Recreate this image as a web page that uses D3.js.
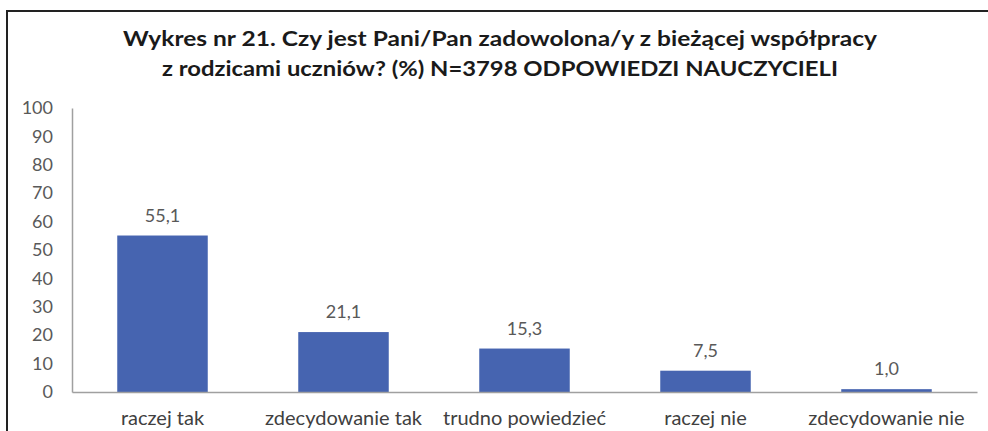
<!DOCTYPE html>
<html><head><meta charset="utf-8">
<script src="https://cdn.jsdelivr.net/npm/d3@7"></script>
<style>body{margin:0;background:#fff}svg{display:block}</style>
</head><body>
<svg id="c" width="988" height="431"></svg>
<script>
const categories = ["raczej tak","zdecydowanie tak","trudno powiedzieć","raczej nie","zdecydowanie nie"];
const values = [55.1, 21.1, 15.3, 7.5, 1.0];
const yTicks = [0,10,20,30,40,50,60,70,80,90,100];
const titleLines = ["Wykres nr 21. Czy jest Pani/Pan zadowolona/y z bieżącej współpracy",
                    "z rodzicami uczniów? (%) N=3798 ODPOWIEDZI NAUCZYCIELI"];

const svg = d3.select("#c");
const font = "Lato, 'Open Sans', sans-serif";
const textCol = "#595959";

// frame
svg.append("path").attr("d","M7,431 V11 H988").attr("fill","none").attr("stroke","#222").attr("stroke-width",2);

// title
const titleW = [754, 676];
svg.append("g").selectAll("text").data(titleLines).join("text")
  .attr("x",500).attr("y",(d,i)=>46+i*30)
  .attr("text-anchor","middle").attr("font-family",font).attr("font-weight","bold")
  .attr("font-size",21).attr("fill","#1a1a1a")
  .attr("textLength",(d,i)=>titleW[i]).attr("lengthAdjust","spacingAndGlyphs")
  .text(d=>d);

const x = d3.scaleBand().domain(categories).range([72,977]).paddingInner(0.5).paddingOuter(0.25);
const y = d3.scaleLinear().domain([0,100]).range([392,108]);

// y axis
const ya = svg.append("g").attr("transform","translate(72,0)")
  .call(d3.axisLeft(y).tickValues(yTicks).tickSize(0).tickPadding(19));
ya.select(".domain").attr("stroke","#a0a0a0").attr("stroke-width",1.5);
ya.selectAll("text").attr("font-family",font).attr("font-size",18).attr("fill",textCol);

// bars
svg.append("g").selectAll("rect").data(values).join("rect")
  .attr("x",(d,i)=>x(categories[i])).attr("width",x.bandwidth())
  .attr("y",d=>y(d)).attr("height",d=>y(0)-y(d)).attr("fill","#4664B0");

// value labels
svg.append("g").selectAll("text").data(values).join("text")
  .attr("x",(d,i)=>x(categories[i])+x.bandwidth()/2).attr("y",d=>y(d)-14)
  .attr("text-anchor","middle").attr("font-family",font).attr("font-size",18).attr("fill",textCol)
  .text(d=>d3.format(".1f")(d).replace(".",","));

// x axis
const xa = svg.append("g").attr("transform","translate(0,392)")
  .call(d3.axisBottom(x).tickSize(0).tickPadding(19));
xa.select(".domain").attr("stroke","#a0a0a0").attr("stroke-width",1.5);
xa.selectAll("text").attr("font-family",font).attr("font-size",20).attr("fill","#404040");
</script>
</body></html>
